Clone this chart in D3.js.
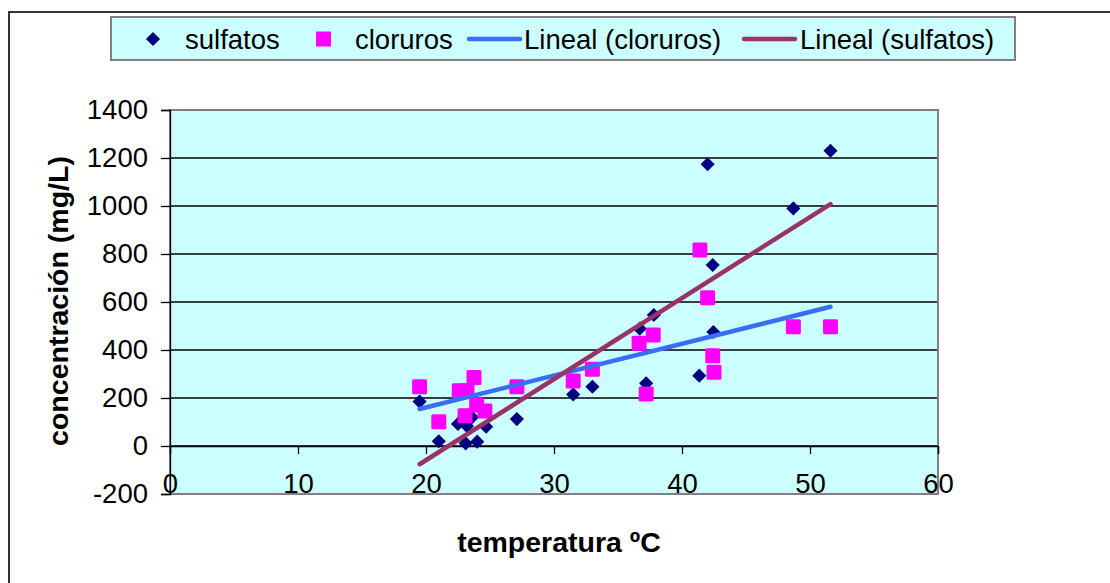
<!DOCTYPE html>
<html>
<head>
<meta charset="utf-8">
<script src="https://cdn.jsdelivr.net/npm/d3@7"></script>
<style>
  body { margin: 0; background: #fff; }
  svg { display: block; font-family: "Liberation Sans", Arial, sans-serif; }
</style>
</head>
<body>
<svg id="chart" width="1110" height="583"></svg>
<script>
// ---- data ----
const sulfatosX = [19.5, 21.0, 22.5, 23.2, 23.1, 24.0, 23.6, 24.7, 27.1, 31.5, 33.0, 36.7, 37.8, 37.2, 41.35, 42.0, 42.4, 42.45, 48.7, 51.6];
const sulfatosY = [185, 20, 92, 83, 11, 18, 120, 80, 112, 215, 247, 489, 546, 261, 293, 1174, 754, 475, 990, 1230];
const clorurosX = [19.5, 21.0, 22.6, 23.2, 23.75, 23.96, 24.6, 23.05, 27.1, 31.5, 33.0, 36.65, 37.75, 37.2, 41.4, 42.0, 42.4, 42.5, 48.7, 51.6];
const clorurosY = [247, 101, 230, 230, 285, 171, 146, 126, 247, 271, 320, 428, 462, 217, 817, 618, 376, 307, 497, 497];
const linealClorurosX = [19.5, 51.6];
const linealClorurosY = [154, 580];
const linealSulfatosX = [19.5, 51.6];
const linealSulfatosY = [-76, 1008];
const xTicks = [0, 10, 20, 30, 40, 50, 60];
const yTicks = [-200, 0, 200, 400, 600, 800, 1000, 1200, 1400];
const legendLabels = ["sulfatos", "cloruros", "Lineal (cloruros)", "Lineal (sulfatos)"];
const xTitle = "temperatura ºC";
const yTitle = "concentración (mg/L)";

const colSulf = "#000080", colClor = "#FF00FF", colLinC = "#3A6DF5", colLinS = "#993366";
const FONT = "Liberation Sans, Arial, sans-serif";

const svg = d3.select("#chart");

// outer chart border
svg.append("rect").attr("x", 9).attr("y", 12).attr("width", 1200).attr("height", 700)
  .attr("fill", "#fff").attr("stroke", "#333").attr("stroke-width", 2);

const L = 170, R = 938, T = 110, B = 494;
const x = d3.scaleLinear().domain([0, 60]).range([L, R]);
const y = d3.scaleLinear().domain([-200, 1400]).range([B, T]);

// plot area
svg.append("rect").attr("x", L).attr("y", T).attr("width", R - L).attr("height", B - T)
  .attr("fill", "#CCFFFF");

// gridlines
svg.append("g").selectAll("line").data(yTicks.filter(d => d > -200)).join("line")
  .attr("x1", L).attr("x2", R).attr("y1", d => y(d)).attr("y2", d => y(d))
  .attr("stroke", "#000").attr("stroke-width", 1.3);

svg.append("rect").attr("x", L).attr("y", T).attr("width", R - L).attr("height", B - T)
  .attr("fill", "none").attr("stroke", "#808080").attr("stroke-width", 2);

// y axis
const yAxis = d3.axisLeft(y).tickValues(yTicks).tickSize(9).tickPadding(13).tickFormat(d => String(d));
const gy = svg.append("g").attr("transform", `translate(${L},0)`).call(yAxis);
gy.select(".domain").attr("stroke", "#000").attr("stroke-width", 1.3);
gy.selectAll(".tick line").attr("stroke", "#000").attr("stroke-width", 1.3);
gy.selectAll(".tick text").attr("font-size", 27.5).attr("fill", "#000").attr("font-family", FONT);

// x axis at y = 0
const xAxis = d3.axisBottom(x).tickValues(xTicks).tickSize(8).tickFormat(d => String(d));
const gx = svg.append("g").attr("transform", `translate(0,${y(0)})`).call(xAxis);
gx.select(".domain").attr("stroke", "#000").attr("stroke-width", 1.3);
gx.selectAll(".tick line").attr("stroke", "#000").attr("stroke-width", 1.3);
gx.selectAll(".tick text").attr("font-size", 27.5).attr("fill", "#000").attr("font-family", FONT)
  .attr("y", B - y(0) - 11).attr("dy", "0.35em");

// markers
const sulf = sulfatosX.map((v, i) => [v, sulfatosY[i]]);
const clor = clorurosX.map((v, i) => [v, clorurosY[i]]);

svg.append("g").selectAll("path").data(sulf).join("path")
  .attr("d", d3.symbol().type(d3.symbolSquare).size(100))
  .attr("transform", d => `translate(${x(d[0])},${y(d[1])}) rotate(45)`)
  .attr("fill", colSulf);

svg.append("g").selectAll("rect").data(clor).join("rect")
  .attr("x", d => x(d[0]) - 7.5).attr("y", d => y(d[1]) - 7.5)
  .attr("width", 15).attr("height", 15).attr("rx", 1.5)
  .attr("fill", colClor);

// trend lines
const line = d3.line().x(d => x(d[0])).y(d => y(d[1]));
svg.append("path").datum(linealClorurosX.map((v, i) => [v, linealClorurosY[i]]))
  .attr("d", line).attr("fill", "none").attr("stroke", colLinC).attr("stroke-width", 4.5)
  .attr("stroke-linecap", "round");
svg.append("path").datum(linealSulfatosX.map((v, i) => [v, linealSulfatosY[i]]))
  .attr("d", line).attr("fill", "none").attr("stroke", colLinS).attr("stroke-width", 4.5)
  .attr("stroke-linecap", "round");

// axis titles
svg.append("text").text(xTitle).attr("x", 559).attr("y", 542).attr("dy", "0.35em")
  .attr("text-anchor", "middle").attr("font-weight", "bold").attr("font-size", 28.5);
svg.append("text").text(yTitle).attr("transform", "translate(58,301) rotate(-90)").attr("dy", "0.35em")
  .attr("text-anchor", "middle").attr("font-weight", "bold").attr("font-size", 28.5);

// legend
const lg = svg.append("g");
lg.append("rect").attr("x", 111).attr("y", 17).attr("width", 904).attr("height", 43)
  .attr("fill", "#CCFFFF").attr("stroke", "#808080").attr("stroke-width", 2);
const ly = 39;
lg.append("path").attr("d", d3.symbol().type(d3.symbolSquare).size(100))
  .attr("transform", `translate(153,${ly}) rotate(45)`).attr("fill", colSulf);
lg.append("rect").attr("x", 316).attr("y", ly - 7.5).attr("width", 15).attr("height", 15).attr("fill", colClor);
lg.append("line").attr("x1", 469).attr("x2", 520).attr("y1", ly).attr("y2", ly)
  .attr("stroke", colLinC).attr("stroke-width", 4.5).attr("stroke-linecap", "round");
lg.append("line").attr("x1", 744).attr("x2", 795).attr("y1", ly).attr("y2", ly)
  .attr("stroke", colLinS).attr("stroke-width", 4.5).attr("stroke-linecap", "round");
const lx = [185, 355, 524, 800];
lg.selectAll("text").data(legendLabels).join("text")
  .attr("x", (d, i) => lx[i]).attr("y", ly).attr("dy", "0.35em")
  .attr("font-size", 27.5).text(d => d);
</script>
</body>
</html>
